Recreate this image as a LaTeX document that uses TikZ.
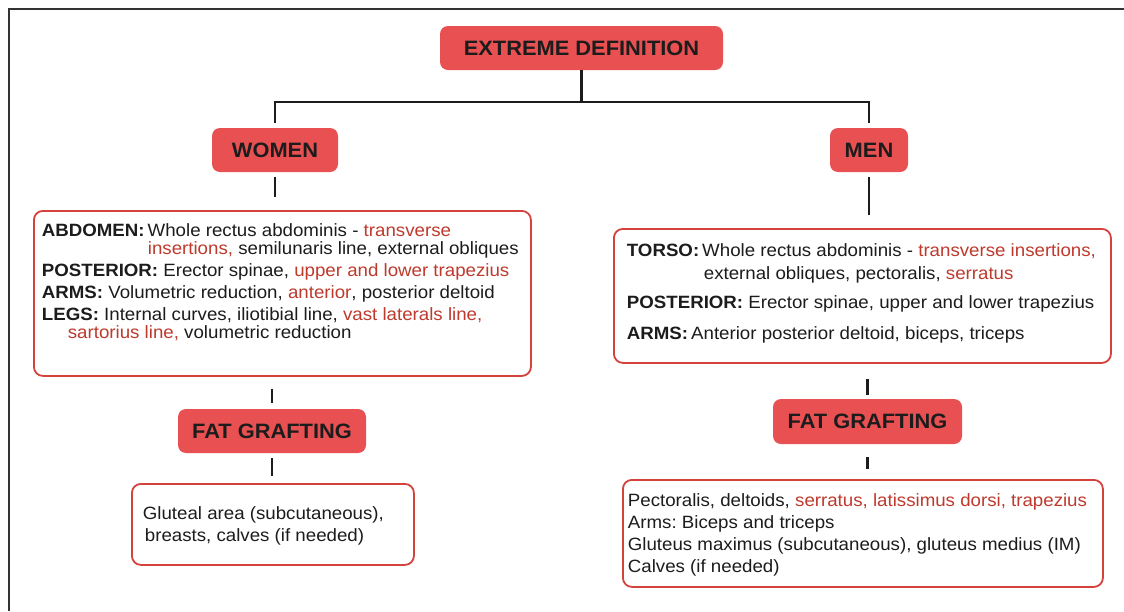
\documentclass[tikz,border=0pt]{standalone}
\usepackage{fontspec}
\setmainfont[FakeStretch=1.05]{Liberation Sans}
\frenchspacing
\definecolor{headred}{RGB}{233,80,82}
\definecolor{linered}{RGB}{212,66,62}
\definecolor{textred}{RGB}{190,58,45}
\definecolor{ink}{RGB}{28,28,28}
\newcommand{\rd}[1]{\textcolor{textred}{#1}}
\tikzset{
  heading/.style={fill=headred, rounded corners=8pt, text=ink, inner sep=0pt,
    font=\fontsize{20.8}{22}\selectfont\bfseries},
  infobox/.style={draw=linered, line width=1.8pt, rounded corners=9pt, fill=white,
    inner sep=0pt, anchor=north west, text=ink, font=\fontsize{17.8}{18}\selectfont},
  link/.style={draw=ink, line width=2.4pt},
}
\begin{document}
\begin{tikzpicture}[x=1pt,y=-1pt]
    \useasboundingbox (0,0) rectangle (1124,611);
    \draw[line width=2pt, black!80] (9,611) -- (9,9) -- (1124,9); % frame

    % headings
    \node[heading, minimum width=283pt, minimum height=44pt] (title) at (581.5,48) {EXTREME DEFINITION};
    \node[heading, minimum width=126pt, minimum height=44pt] (women) at (275,150) {WOMEN};
    \node[heading, minimum width=78pt, minimum height=44pt] (men) at (869,150) {MEN};
    \node[heading, minimum width=188pt, minimum height=44pt] (wgraft) at (272,431) {FAT GRAFTING};
    \node[heading, minimum width=189pt, minimum height=45pt] (mgraft) at (867.5,421.5) {FAT GRAFTING};

    % women
    \node[infobox] (wbox) at (33,210) {\parbox[t][165pt][t]{497pt}{\raggedright\leftskip=8pt
        \rule{0pt}{26pt}\textbf{ABDOMEN:}\hspace{3pt}Whole rectus abdominis - \rd{transverse}\\
        \hspace*{106pt}\rd{insertions,} semilunaris line, external obliques\\[4pt]
        \textbf{POSTERIOR:} Erector spinae, \rd{upper and lower trapezius}\\[4pt]
        \textbf{ARMS:} Volumetric reduction, \rd{anterior}, posterior deltoid\\[4pt]
        \textbf{LEGS:} Internal curves, iliotibial line, \rd{vast laterals line,}\\
        \hspace*{26pt}\rd{sartorius line,} volumetric reduction\par}};
    \node[infobox] (wsites) at (131,483) {\parbox[t][81pt][t]{282pt}{\raggedright\leftskip=11pt
        \rule{0pt}{36pt}Gluteal area (subcutaneous),\\[4pt]
        \hspace*{2pt}breasts, calves (if needed)\par}};

    % men
    \node[infobox] (mbox) at (613,228) {\parbox[t][134pt][t]{497pt}{\raggedright\leftskip=13pt
        \rule{0pt}{28pt}\textbf{TORSO:}\hspace{3pt}Whole rectus abdominis - \rd{transverse insertions,}\\[5pt]
        \hspace*{77pt}external obliques, pectoralis, \rd{serratus}\\[11pt]
        \textbf{POSTERIOR:} Erector spinae, upper and lower trapezius\\[13pt]
        \textbf{ARMS:}\hspace{3pt}Anterior posterior deltoid, biceps, triceps\par}};
    \node[infobox] (msites) at (622,479) {\parbox[t][107pt][t]{480pt}{\raggedright\leftskip=5pt
        \rule{0pt}{27pt}Pectoralis, deltoids, \rd{serratus, latissimus dorsi, trapezius}\\[4pt]
        Arms: Biceps and triceps\\[4pt]
        Gluteus maximus (subcutaneous), gluteus medius (IM)\\[4pt]
        Calves (if needed)\par}};

    % connectors
    \draw[link, shorten >=5pt] (title.south) -- ++(0,32) -| (women.north);
    \draw[link, shorten >=5pt] (title.south) ++(0,32) -| (men.north);
    \draw[link, shorten <=5pt, shorten >=13pt] (women.south) -- (women.south |- wbox.north);
    \draw[link, shorten <=12pt, shorten >=6pt] (wbox.south -| wgraft.north) -- (wgraft.north);
    \draw[link, shorten <=5pt, shorten >=7pt] (wgraft.south) -- (wgraft.south |- wsites.north);
    \draw[link, shorten <=5pt, shorten >=13pt] (men.south) -- (men.south |- mbox.north);
    \draw[link, shorten <=15pt, shorten >=4pt] (mbox.south -| mgraft.north) -- (mgraft.north);
    \draw[link, shorten <=13pt, shorten >=10pt] (mgraft.south) -- (mgraft.south |- msites.north);
\end{tikzpicture}
\end{document}
